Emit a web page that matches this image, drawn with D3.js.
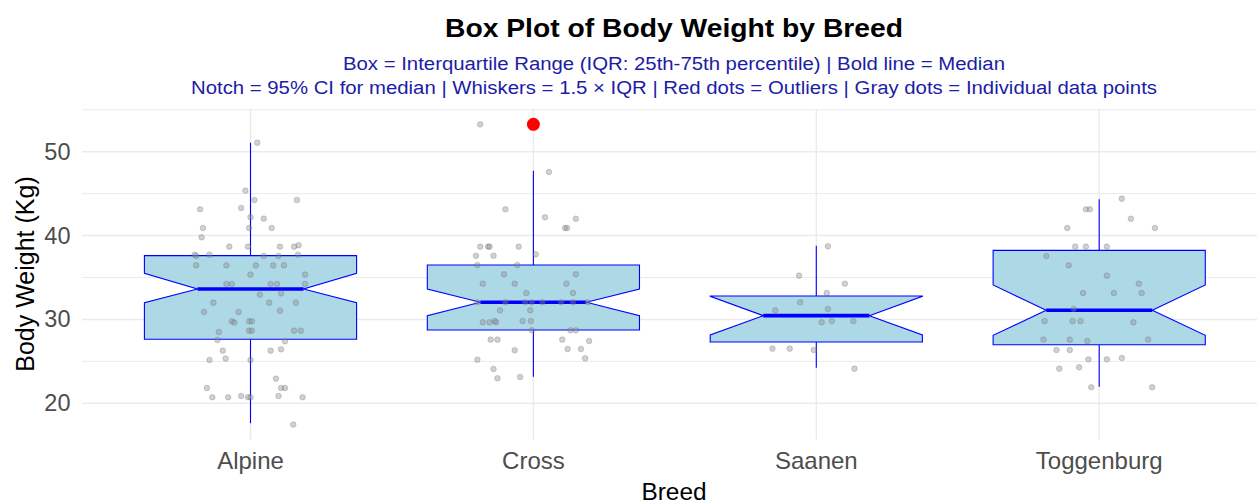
<!DOCTYPE html>
<html>
<head>
<meta charset="utf-8">
<script src="https://cdn.jsdelivr.net/npm/d3@7"></script>
<style>
  html, body { margin: 0; padding: 0; background: #fff; }
  svg { display: block; font-family: "Liberation Sans", Arial, sans-serif; }
</style>
</head>
<body>
<svg id="chart" width="1257" height="502"></svg>
<script>
// ---------------- DATA ----------------
const categories = ["Alpine", "Cross", "Saanen", "Toggenburg"];
const yTicks = [20, 30, 40, 50];
const yMinorTicks = [25, 35, 45, 55];

// box statistics (kg)
const q1 = [27.63, 28.74, 27.31, 26.99];
const medians = [33.63, 32.04, 30.45, 31.09];
const q3 = [37.61, 36.49, 32.79, 38.24];
const notchLow = [32.00, 30.45, 28.15, 28.10];
const notchHigh = [35.50, 33.63, 32.75, 34.11];
const whiskerLow = [17.62, 23.18, 24.25, 21.98];
const whiskerHigh = [51.08, 47.74, 38.80, 44.32];
const outliers = [[], [53.26], [], []];

// individual observations (kg) and their horizontal jitter (category units)
const alpineWeights = [51.08,45.36,44.24,44.24,43.13,43.29,42.18,42.02,40.90,40.90,40.90,39.79,38.68,38.68,38.68,38.68,38.84,37.72,37.57,37.72,37.57,37.57,37.72,36.45,36.45,36.45,36.45,36.45,35.34,35.34,34.23,34.23,34.23,34.23,34.23,32.96,33.11,32.00,32.00,32.00,30.89,30.89,31.05,29.78,29.62,29.78,29.78,28.51,28.66,28.66,28.66,28.66,27.55,27.39,26.28,26.28,26.44,25.17,25.33,25.17,22.94,21.83,21.83,21.83,20.72,20.72,20.87,20.72,20.72,20.87,20.72,17.46];
const alpineJitter = [0.024,-0.018,0.014,0.164,-0.178,-0.033,0,0.047,-0.168,-0.005,0.075,-0.173,-0.075,-0.009,0.104,0.154,0.170,-0.197,-0.192,-0.145,0.047,0.099,0.168,-0.192,-0.085,0.019,0.080,0.118,0,0.193,-0.085,-0.066,0.071,0.094,0.193,0.033,0.108,-0.131,0.066,0.160,-0.164,-0.042,0.104,-0.066,-0.057,-0.005,0.005,-0.112,-0.005,0.005,0.154,0.178,-0.117,0.122,-0.098,0.071,0.108,-0.145,-0.088,0,0.090,-0.154,0.108,0.122,-0.135,-0.079,-0.033,-0.009,0,0.099,0.184,0.151];

const crossWeights = [53.26,47.58,43.13,42.17,42.01,40.90,40.90,38.68,38.68,38.68,38.68,37.60,37.60,37.76,36.49,36.49,35.38,35.38,34.26,34.26,34.26,33.15,33.15,32.04,32.04,32.04,32.04,32.04,32.04,32.04,32.04,31.09,31.09,29.66,29.66,29.81,29.66,29.81,29.81,28.70,28.70,28.70,27.59,27.59,27.59,27.43,26.32,26.48,26.48,25.20,25.36,24.09,22.98,23.14];
const crossJitter = [-0.188,0.055,-0.099,0.041,0.150,0.112,0.119,-0.188,-0.160,-0.155,-0.052,-0.203,-0.141,0.008,-0.198,-0.057,-0.104,0.150,-0.179,-0.066,0.117,-0.025,0.140,-0.198,-0.099,-0.029,-0.006,0.032,0.098,0.140,0.192,-0.118,-0.011,-0.179,-0.155,-0.137,-0.132,-0.038,-0.009,-0.006,0.131,0.150,-0.151,-0.127,0.102,0.197,-0.066,0.121,0.168,-0.198,0.183,-0.141,-0.127,-0.047];

const saanenWeights = [38.72,35.22,34.26,33.15,32.04,31.09,31.24,29.66,29.81,29.81,26.52,26.52,26.36,24.13];
const saanenJitter = [0.041,-0.061,0.101,0.037,-0.057,-0.145,0.041,0.019,0.055,0.131,-0.155,-0.094,-0.009,0.135];

const toggenburgWeights = [44.40,43.13,43.13,42.01,40.90,40.90,38.68,38.68,38.68,37.56,36.45,35.22,34.26,33.15,33.15,33.15,31.24,29.81,29.81,29.81,29.65,27.59,27.59,27.43,27.59,26.36,26.36,25.24,25.24,25.40,24.13,24.29,21.91,21.91];
const toggenburgJitter = [0.080,-0.047,-0.033,0.112,-0.113,0.197,-0.085,-0.047,0.027,-0.187,-0.108,0.027,0.140,-0.057,0.052,0.150,-0.090,-0.193,-0.094,-0.066,0.121,-0.197,-0.104,-0.042,0.173,-0.151,-0.104,-0.038,0.027,0.080,-0.141,-0.071,-0.028,0.187];

const weightsByBreed = [alpineWeights, crossWeights, saanenWeights, toggenburgWeights];
const jitterByBreed = [alpineJitter, crossJitter, saanenJitter, toggenburgJitter];

const titleText = "Box Plot of Body Weight by Breed";
const subtitleLines = [
  "Box = Interquartile Range (IQR: 25th-75th percentile) | Bold line = Median",
  "Notch = 95% CI for median | Whiskers = 1.5 \u00d7 IQR | Red dots = Outliers | Gray dots = Individual data points"
];
const xTitle = "Breed";
const yTitle = "Body Weight (Kg)";

// ---------------- LAYOUT ----------------
const svg = d3.select("#chart");
const panel = { left: 82, right: 1266, top: 109.3, bottom: 439.6 };

const x = d3.scaleBand().domain(categories).range([109.05, 1240.65]).padding(0);
const y = d3.scaleLinear().domain([20, 50]).range([403.3, 151.7]);
const bw = x.bandwidth();
const cx = c => x(c) + bw / 2;
const boxHalf = bw * 0.75 / 2;
const notchIndent = boxHalf * 0.5;

// grid
const grid = svg.append("g");
grid.selectAll("line.minor").data(yMinorTicks).join("line")
  .attr("x1", panel.left).attr("x2", panel.right)
  .attr("y1", d => y(d)).attr("y2", d => y(d))
  .attr("stroke", "#ebebeb").attr("stroke-width", 1);
grid.selectAll("line.major").data(yTicks).join("line")
  .attr("x1", panel.left).attr("x2", panel.right)
  .attr("y1", d => y(d)).attr("y2", d => y(d))
  .attr("stroke", "#ebebeb").attr("stroke-width", 1.4);
grid.selectAll("line.vert").data(categories).join("line")
  .attr("x1", d => cx(d)).attr("x2", d => cx(d))
  .attr("y1", panel.top).attr("y2", panel.bottom)
  .attr("stroke", "#ebebeb").attr("stroke-width", 1.4);

// axes (text only, theme_minimal)
const yAxis = d3.axisLeft(y).tickValues(yTicks).tickSize(0).tickPadding(0);
const gy = svg.append("g").attr("transform", "translate(70.5,0)").call(yAxis);
gy.select(".domain").remove();
gy.selectAll("text").attr("font-size", 23.5).attr("fill", "#4d4d4d")
  .attr("font-family", "Liberation Sans, Arial, sans-serif");

const xAxis = d3.axisBottom(x).tickSize(0).tickPadding(0);
const gx = svg.append("g").attr("transform", "translate(0,452)").call(xAxis);
gx.select(".domain").remove();
gx.selectAll("text").attr("font-size", 24).attr("fill", "#4d4d4d")
  .attr("font-family", "Liberation Sans, Arial, sans-serif");

// boxes
const boxes = svg.append("g");
categories.forEach((c, i) => {
  const xc = cx(c), x0 = xc - boxHalf, x1 = xc + boxHalf;
  const g = boxes.append("g");
  g.append("line").attr("x1", xc).attr("x2", xc)
    .attr("y1", y(q3[i])).attr("y2", y(whiskerHigh[i]))
    .attr("stroke", "blue").attr("stroke-width", 1.1);
  g.append("line").attr("x1", xc).attr("x2", xc)
    .attr("y1", y(q1[i])).attr("y2", y(whiskerLow[i]))
    .attr("stroke", "blue").attr("stroke-width", 1.1);
  const pts = [
    [x0, y(q3[i])], [x0, y(notchHigh[i])], [x0 + notchIndent, y(medians[i])],
    [x0, y(notchLow[i])], [x0, y(q1[i])], [x1, y(q1[i])], [x1, y(notchLow[i])],
    [x1 - notchIndent, y(medians[i])], [x1, y(notchHigh[i])], [x1, y(q3[i])]
  ];
  g.append("path").attr("d", d3.line()(pts) + "Z")
    .attr("fill", "#add8e6").attr("stroke", "blue").attr("stroke-width", 1.1)
    .attr("stroke-linejoin", "miter");
  g.append("line").attr("x1", x0 + notchIndent).attr("x2", x1 - notchIndent)
    .attr("y1", y(medians[i])).attr("y2", y(medians[i]))
    .attr("stroke", "blue").attr("stroke-width", 3.6);
  g.selectAll("circle").data(outliers[i]).join("circle")
    .attr("cx", xc).attr("cy", d => y(d)).attr("r", 6.5).attr("fill", "red");
});

// jittered observations
const ptsG = svg.append("g");
categories.forEach((c, i) => {
  const data = weightsByBreed[i].map((w, k) => ({ w, j: jitterByBreed[i][k] }));
  ptsG.selectAll(null).data(data).join("circle")
    .attr("cx", d => cx(c) + d.j * bw)
    .attr("cy", d => y(d.w))
    .attr("r", 2.8)
    .attr("fill", "#8c8c8c").attr("fill-opacity", 0.4)
    .attr("stroke", "#555").attr("stroke-opacity", 0.3).attr("stroke-width", 0.8);
});

// titles
const midX = (panel.left + panel.right) / 2;
svg.append("text").attr("x", midX).attr("y", 36.7).attr("text-anchor", "middle")
  .attr("font-size", 26).attr("font-weight", "bold").attr("fill", "#000")
  .attr("textLength", 458).attr("lengthAdjust", "spacingAndGlyphs").text(titleText);
const subWidths = [662, 966];
svg.selectAll("text.sub").data(subtitleLines).join("text")
  .attr("x", midX).attr("y", (d, k) => 70 + k * 23.5).attr("text-anchor", "middle")
  .attr("font-size", 18).attr("fill", "#1c1ca6")
  .attr("textLength", (d, k) => subWidths[k]).attr("lengthAdjust", "spacingAndGlyphs")
  .text(d => d);

svg.append("text").attr("x", midX).attr("y", 500).attr("text-anchor", "middle")
  .attr("font-size", 24.4).attr("fill", "#000").text(xTitle);
svg.append("text").attr("transform", "translate(34,274) rotate(-90)")
  .attr("text-anchor", "middle").attr("font-size", 25).attr("fill", "#000").text(yTitle);
</script>
</body>
</html>
